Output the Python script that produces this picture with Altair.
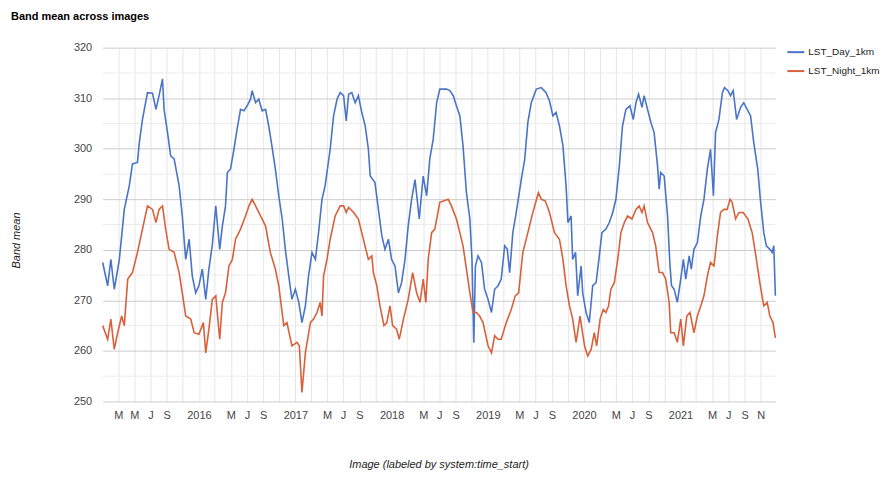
import altair as alt
import pandas as pd

# ---- data (days since 2015-01-01, band mean in K) ----
day_days = [0,19,31,44,63,82,101,113,132,139,151,170,189,202,214,227,233,246,258,271,290,302,315,328,340,353,365,378,391,403,
            416,429,444,454,466,473,485,498,510,523,536,548,561,567,580,592,605,618,630,643,655,668,681,693,706,718,731,744,756,769,781,794,807,819,832,844,
            863,876,889,901,914,924,933,945,958,970,983,996,1008,1015,1033,1046,1059,1071,1084,1096,1109,1122,1134,1147,1159,1172,1185,1201,1216,1229,1241,1254,1267,1279,
            1304,1317,1330,1342,1355,1367,1380,1393,1401,1408,1414,1424,1437,1449,1462,1475,1487,1500,1512,1525,1535,1544,1556,1569,1588,1601,1613,1626,1645,1664,1682,1695,1708,
            1720,1733,1746,1758,1765,1777,1783,1794,1802,1815,1821,1834,1846,1859,1872,1884,1894,1909,1922,1935,1947,1960,1972,1985,2000,2013,2023,2033,2046,2054,2067,2080,2092,2105,2111,2117,2130,2143,2152,
            2158,2168,2180,2193,2203,2212,2225,2233,2243,2256,2269,2281,2294,2306,2317,2325,2338,2351,2359,2372,2382,2392,2405,2420,2432,2445,2458,2470,2485,2495,2508,2518,2531,2540,2546,2552]
lst_day = [277.5,272.9,278.1,272.2,278.0,288.0,292.7,297.0,297.3,301.2,305.8,311.1,311.0,307.8,310.5,313.8,307.8,303.2,298.6,298.0,292.7,286.7,278.1,282.1,274.8,271.5,272.9,276.2,270.2,276.2,
           281.0,288.7,280.1,284.7,288.7,295.3,296.0,299.9,303.9,307.8,307.5,308.5,309.8,311.5,309.1,309.8,307.5,307.8,304.5,300.2,296.0,290.7,286.1,280.1,274.8,270.2,272.2,269.6,265.6,268.9,274.8,279.5,278.1,283.4,290.0,292.7,
           299.9,306.5,309.8,311.1,310.5,305.5,310.8,311.1,309.1,310.5,307.2,304.5,299.9,294.6,293.3,288.0,282.8,280.1,282.1,278.1,276.8,271.5,273.5,278.1,284.7,290.0,293.9,286.1,294.6,290.7,298.0,301.9,309.1,311.8,
           311.8,311.5,310.5,308.5,306.5,300.6,291.3,286.1,278.1,261.6,276.8,278.8,277.5,272.2,270.2,267.6,272.2,272.9,274.2,280.8,280.1,275.5,283.4,287.4,293.9,297.9,305.2,309.1,311.8,312.1,311.1,309.5,306.5,
           307.2,304.5,300.6,292.7,285.4,286.7,278.1,279.5,270.9,276.8,271.5,267.6,265.6,272.9,273.5,278.8,283.4,284.1,285.4,287.4,290.0,296.6,304.5,307.8,308.5,305.8,309.1,310.8,308.2,310.5,307.8,305.2,303.2,296.6,292.0,295.3,294.6,286.7,277.0,
           272.9,272.2,269.6,274.2,278.1,274.2,278.8,276.2,280.1,281.4,286.7,290.0,296.0,299.9,290.7,303.2,305.8,311.1,312.1,311.5,310.5,311.5,305.8,308.2,309.1,307.8,306.5,301.2,296.0,290.0,283.4,280.8,280.1,279.5,280.8,270.9]

night_days = [0,19,31,44,57,72,82,95,113,132,151,170,189,202,214,227,239,252,271,290,302,315,334,347,365,382,391,403,
              416,429,444,454,466,479,492,504,523,542,555,567,580,599,618,636,655,668,687,699,718,737,746,756,769,788,800,813,825,832,838,851,
              863,882,901,914,924,933,952,970,989,1008,1021,1027,1040,1052,1067,1078,1090,1100,1115,1125,1141,1159,1176,1191,1204,1216,1226,1235,1248,1260,1279,
              1311,1323,1342,1355,1367,1380,1393,1405,1418,1430,1443,1462,1475,1487,1500,1512,1531,1550,1565,1578,1594,1613,1632,1653,1664,1679,1695,1714,
              1733,1746,1758,1771,1783,1796,1811,1828,1840,1853,1865,1874,1887,1899,1909,1919,1928,1941,1954,1966,1979,1991,2008,2023,2035,2046,2054,2067,2086,2098,2111,2124,2136,2149,
              2155,2168,2180,2193,2203,2216,2228,2243,2256,2269,2281,2294,2306,2319,2332,2344,2357,2369,2380,2388,2401,2414,2430,2448,2464,2480,2493,2508,2521,2531,2543,2552]
lst_night = [265.0,262.3,266.3,260.3,263.6,266.9,265.0,274.2,275.5,279.5,284.1,288.7,288.0,285.4,288.0,288.7,284.1,280.1,279.5,275.5,271.5,266.9,266.3,263.6,263.3,265.6,259.6,264.3,
             270.2,270.9,262.3,269.6,271.5,276.8,278.1,282.1,284.1,286.7,288.7,290.0,288.7,286.7,284.7,279.5,276.2,272.9,265.0,265.6,261.0,261.7,261.0,251.8,259.6,265.6,266.3,267.6,269.6,266.9,274.8,278.1,
             282.1,286.7,288.7,288.7,287.4,288.4,287.4,286.1,282.1,278.1,278.8,275.5,272.9,268.9,265.0,265.6,268.9,265.0,264.3,262.3,266.3,270.2,275.5,271.5,269.6,274.2,269.6,278.1,283.4,284.1,289.4,
             290.0,288.7,286.1,283.4,280.8,276.2,271.5,267.6,267.6,266.9,265.6,261.0,259.6,263.0,262.3,262.3,265.6,268.2,270.9,271.5,279.5,283.4,287.4,291.3,290.0,289.7,287.4,283.4,
             282.1,278.1,272.9,268.9,266.3,261.7,266.9,261.0,259.0,260.3,263.6,261.0,266.3,268.2,267.6,268.9,272.2,273.5,278.1,283.4,285.4,286.7,286.1,288.0,288.7,287.4,288.7,285.4,283.4,280.8,275.5,275.5,274.2,269.6,
             263.6,263.6,261.7,266.3,261.0,266.9,267.6,263.6,266.9,268.9,270.9,274.8,277.5,276.8,282.8,287.4,288.0,288.0,290.0,289.4,286.1,287.4,287.4,286.1,283.4,278.1,273.5,268.9,269.6,266.9,265.6,262.6]

bands = ["LST_Day_1km", "LST_Night_1km"]
band_colors = ["#4a74c8", "#d9603b"]

y_ticks = [250, 260, 270, 280, 290, 300, 310, 320]
y_minor = [255, 265, 275, 285, 295, 305, 315]

tick_keys = ["2015-03", "2015-05", "2015-07", "2015-09", "2015-11",
             "2016-01", "2016-03", "2016-05", "2016-07", "2016-09", "2016-11",
             "2017-01", "2017-03", "2017-05", "2017-07", "2017-09", "2017-11",
             "2018-01", "2018-03", "2018-05", "2018-07", "2018-09", "2018-11",
             "2019-01", "2019-03", "2019-05", "2019-07", "2019-09", "2019-11",
             "2020-01", "2020-03", "2020-05", "2020-07", "2020-09", "2020-11",
             "2021-01", "2021-03", "2021-05", "2021-07", "2021-09", "2021-11"]
tick_text = ["M", "M", "J", "S", "",
             "2016", "", "M", "J", "S", "",
             "2017", "", "M", "J", "S", "",
             "2018", "", "M", "J", "S", "",
             "2019", "", "M", "J", "S", "",
             "2020", "", "M", "J", "S", "",
             "2021", "", "M", "J", "S", "N"]

# ---- build table ----
start = pd.Timestamp("2015-01-01")
df = pd.concat([
    pd.DataFrame({"date": start + pd.to_timedelta(day_days, unit="D"), "value": lst_day, "band": bands[0]}),
    pd.DataFrame({"date": start + pd.to_timedelta(night_days, unit="D"), "value": lst_night, "band": bands[1]}),
], ignore_index=True)
df["date"] = df["date"].dt.strftime("%Y-%m-%dT00:00:00")

tick_values = [alt.DateTime(year=int(k[:4]), month=int(k[5:]), date=1) for k in tick_keys]
keys_js = "[" + ",".join("'%s'" % k for k in tick_keys) + "]"
text_js = "[" + ",".join("'%s'" % t for t in tick_text) + "]"
label_expr = "%s[indexof(%s, timeFormat(datum.value, '%%Y-%%m'))]" % (text_js, keys_js)

FONT = "Liberation Sans"

x_axis = alt.Axis(values=tick_values, labelExpr=label_expr, labelOverlap=False, labelFlush=False,
                  domain=False, ticks=False, grid=True, gridColor="#e6e6e6",
                  labelFont=FONT, labelFontSize=11, labelColor="#444444", labelPadding=8,
                  title="Image (labeled by system:time_start)", titleFont=FONT, titleFontSize=11,
                  titleFontStyle="italic", titleFontWeight="normal", titleColor="#222222",
                  titleX=337, titleY=63, titleBaseline="middle")
y_axis = alt.Axis(values=y_ticks, domain=False, ticks=False, grid=True, gridColor="#cccccc",
                  labelFont=FONT, labelFontSize=11, labelColor="#444444", labelPadding=11,
                  title="Band mean", titleFont=FONT, titleFontSize=11, titleFontStyle="italic",
                  titleFontWeight="normal", titleColor="#222222",
                  titleX=-86, titleY=193, titleBaseline="middle", titleAngle=270)

x_scale = alt.Scale(domain=[alt.DateTime(year=2015, month=1, date=1),
                            alt.DateTime(year=2021, month=12, date=27)], nice=False)
y_scale = alt.Scale(domain=[250, 320], nice=False, zero=False)

minor = alt.Chart(pd.DataFrame({"v": y_minor})).mark_rule(color="#ececec", strokeWidth=1).encode(
    y=alt.Y("v:Q", scale=y_scale, axis=y_axis)
)

lines = alt.Chart(df).mark_line(strokeWidth=1.6).encode(
    x=alt.X("date:T", scale=x_scale, axis=x_axis),
    y=alt.Y("value:Q", scale=y_scale, axis=y_axis),
    color=alt.Color("band:N", scale=alt.Scale(domain=bands, range=band_colors),
                    legend=alt.Legend(title=None, orient="none", legendX=686, legendY=-5,
                                      symbolType="stroke", symbolSize=289, symbolStrokeWidth=2,
                                      labelFont=FONT, labelFontSize=10, labelColor="#222222",
                                      labelOffset=3, rowPadding=4)),
)

chart = alt.layer(minor, lines).properties(
    width=675, height=355,
    title=alt.TitleParams("Band mean across images", anchor="start", font=FONT, fontSize=11,
                          fontWeight="bold", color="#000000", offset=20),
    autosize=alt.AutoSizeParams(type="none"),
    padding={"left": 95, "top": 39, "right": 110, "bottom": 74},
).configure_view(stroke=None)

chart.save("out.html", embed_options={"renderer": "svg", "actions": False})
